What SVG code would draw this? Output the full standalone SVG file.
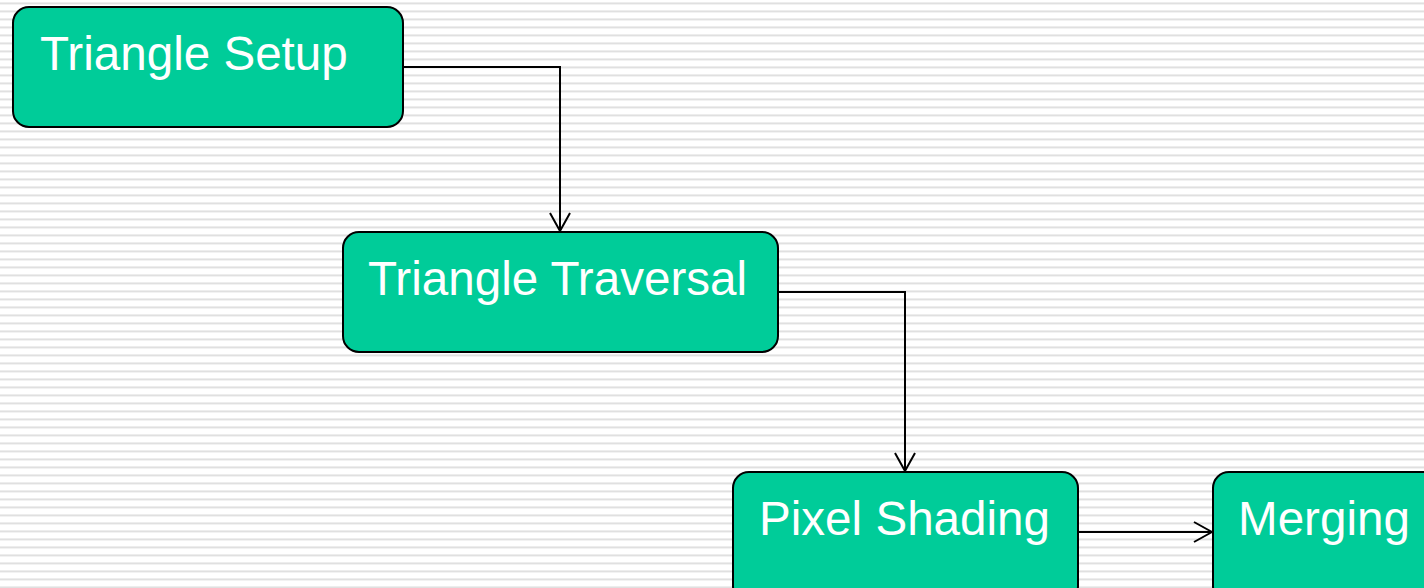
<svg xmlns="http://www.w3.org/2000/svg" width="1424" height="588" viewBox="0 0 1424 588">
  <defs>
    <pattern id="stripes" x="0" y="0" width="8" height="8" patternUnits="userSpaceOnUse">
      <rect x="0" y="0" width="8" height="8" fill="#ffffff"/>
      <rect x="0" y="2" width="8" height="1" fill="#ededed"/>
      <rect x="0" y="3" width="8" height="1" fill="#e0e0e0"/>
      <rect x="0" y="4" width="8" height="1" fill="#f2f2f2"/>
    </pattern>
    <marker id="arrow" viewBox="0 0 20 22" refX="19" refY="11" markerWidth="20" markerHeight="22" markerUnits="userSpaceOnUse" orient="auto">
      <path d="M1,1 L19,11 L1,21" fill="none" stroke="#000" stroke-width="2"/>
    </marker>
    <style>
      .box { fill: #00CC99; stroke: #000; stroke-width: 2; }
      .label { font-family: "Liberation Sans", Arial, sans-serif; font-size: 47.6px; fill: #ffffff; }
      .conn { fill: none; stroke: #000; stroke-width: 2; marker-end: url(#arrow); }
    </style>
  </defs>
  <rect x="0" y="0" width="1424" height="588" fill="url(#stripes)"/>

  <g id="connectors">
    <path class="conn" d="M403,67 H560 V231"/>
    <path class="conn" d="M778,292 H905 V471"/>
    <path class="conn" d="M1078,532 H1212"/>
  </g>

  <g id="node-triangle-setup">
    <rect class="box" x="13" y="7" width="390" height="120" rx="16" ry="16"/>
    <text class="label" x="40" y="70">Triangle Setup</text>
  </g>
  <g id="node-triangle-traversal">
    <rect class="box" x="343" y="232" width="435" height="120" rx="16" ry="16"/>
    <text class="label" x="368" y="295">Triangle Traversal</text>
  </g>
  <g id="node-pixel-shading">
    <rect class="box" x="733" y="472" width="345" height="130" rx="16" ry="16"/>
    <text class="label" x="759" y="535">Pixel Shading</text>
  </g>
  <g id="node-merging">
    <rect class="box" x="1213" y="472" width="225" height="130" rx="16" ry="16"/>
    <text class="label" x="1238" y="535">Merging</text>
  </g>
</svg>
